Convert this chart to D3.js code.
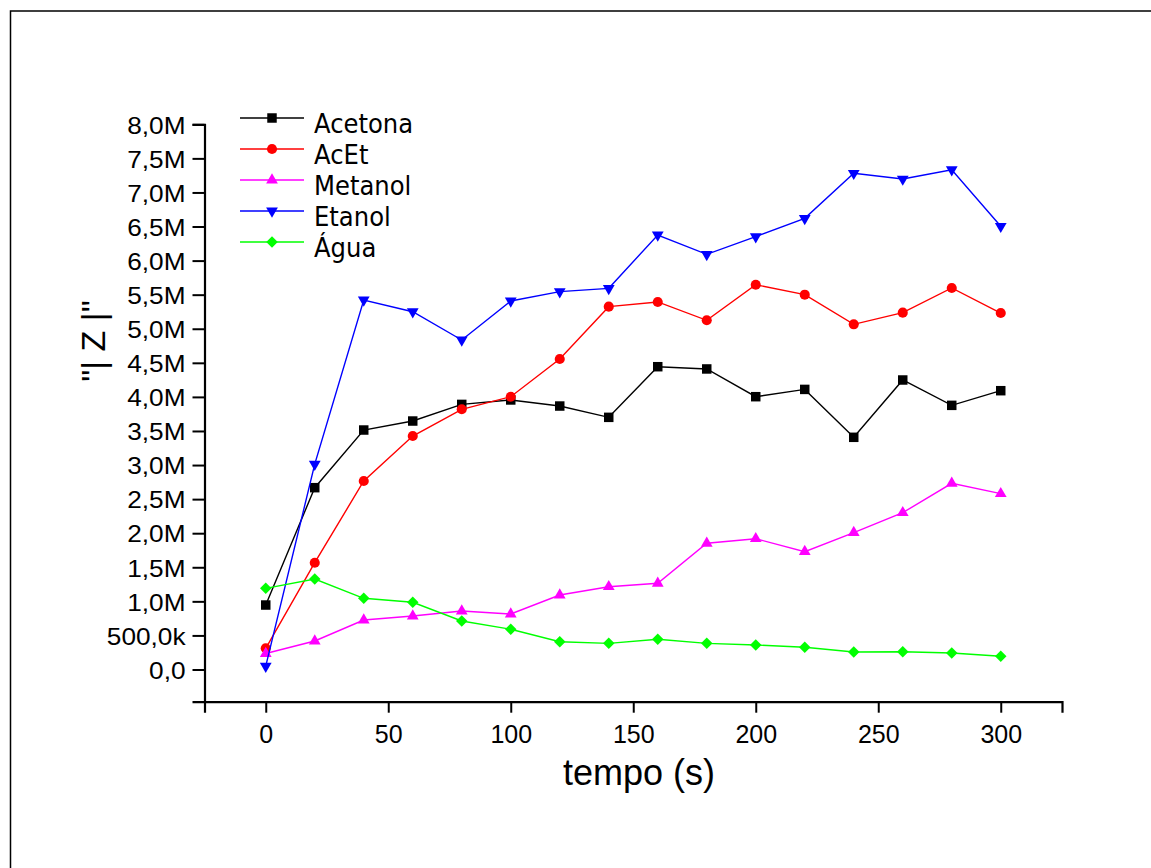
<!DOCTYPE html>
<html>
<head>
<meta charset="utf-8">
<script src="https://cdn.jsdelivr.net/npm/d3@7"></script>
<style>
  html, body { margin: 0; padding: 0; background: #fff; }
  svg { display: block; }
</style>
</head>
<body>
<svg id="chart" width="1151" height="868"></svg>
<script>
// ---- data (values in units of |Z|) ----
const times = [0, 20, 40, 60, 80, 100, 120, 140, 160, 180, 200, 220, 240, 260, 280, 300];
const seriesNames = ["Acetona", "AcEt", "Metanol", "Etanol", "Água"];
const acetona = [0.946, 2.668, 3.514, 3.646, 3.89, 3.955, 3.866, 3.70, 4.443, 4.41, 4.003, 4.11, 3.407, 4.248, 3.876, 4.091].map(v => v * 1e6);
const acet    = [0.311, 1.567, 2.766, 3.426, 3.818, 4.003, 4.556, 5.324, 5.393, 5.124, 5.646, 5.50, 5.065, 5.236, 5.598, 5.231].map(v => v * 1e6);
const metanol = [0.235, 0.418, 0.726, 0.785, 0.858, 0.814, 1.093, 1.215, 1.265, 1.852, 1.919, 1.729, 2.008, 2.301, 2.732, 2.58].map(v => v * 1e6);
const etanol  = [0.05, 3.013, 5.422, 5.25, 4.835, 5.407, 5.544, 5.593, 6.376, 6.092, 6.351, 6.62, 7.281, 7.197, 7.334, 6.503].map(v => v * 1e6);
const agua    = [1.191, 1.328, 1.045, 0.986, 0.712, 0.59, 0.408, 0.384, 0.443, 0.384, 0.36, 0.326, 0.257, 0.261, 0.242, 0.194].map(v => v * 1e6);
const seriesValues = [acetona, acet, metanol, etanol, agua];
const xTickValues = [0, 50, 100, 150, 200, 250, 300];
const yTickValues = [0, 0.5e6, 1e6, 1.5e6, 2e6, 2.5e6, 3e6, 3.5e6, 4e6, 4.5e6, 5e6, 5.5e6, 6e6, 6.5e6, 7e6, 7.5e6, 8e6];
const yTickLabels = ["0,0", "500,0k", "1,0M", "1,5M", "2,0M", "2,5M", "3,0M", "3,5M", "4,0M", "4,5M", "5,0M", "5,5M", "6,0M", "6,5M", "7,0M", "7,5M", "8,0M"];
const xTitle = "tempo (s)";
const yTitle = "\"| Z |\"";

// ---- styles ----
const colors = ["#000000", "#ff0000", "#ff00ff", "#0000ff", "#00ff00"];
const symbols = [
  { type: d3.symbolSquare, size: 90, rot: 0 },
  { type: d3.symbolCircle, size: 80, rot: 0 },
  { type: d3.symbolTriangle, size: 60, rot: 0 },
  { type: d3.symbolTriangle, size: 60, rot: 180 },
  { type: d3.symbolSquare, size: 66, rot: 45 }
];

const svg = d3.select("#chart");

// outer frame
svg.append("rect")
  .attr("x", 10.5).attr("y", 11)
  .attr("width", 1300).attr("height", 1000)
  .attr("fill", "none").attr("stroke", "#000").attr("stroke-width", 1.5);

const x = d3.scaleLinear().domain([-25, 325]).range([204.5, 1062]);
const y = d3.scaleLinear().domain([-0.4725e6, 8e6]).range([701.7, 124.3]);

// minor ticks
const xMinor = d3.range(-25, 326, 25).filter(v => v % 50 !== 0);
const yMinor = d3.range(-0.25e6, 8e6, 0.25e6).filter(v => Math.round(v / 0.25e6) % 2 !== 0);

const gx = svg.append("g").attr("transform", `translate(0,${y.range()[0]})`);
gx.call(d3.axisBottom(x).tickValues(xMinor).tickSize(6).tickFormat(""));
gx.call(d3.axisBottom(x).tickValues(xTickValues).tickSize(11).tickFormat(d3.format("d")));
gx.selectAll("path.domain").attr("stroke-width", 2.2);
gx.selectAll(".tick line").attr("stroke-width", 2);
gx.selectAll("text")
  .attr("y", 41).attr("dy", 0)
  .attr("font-family", "'Liberation Sans', Arial, sans-serif")
  .attr("font-size", 25).attr("fill", "#000");

const gy = svg.append("g").attr("transform", `translate(${x.range()[0]},0)`);
gy.call(d3.axisLeft(y).tickValues(yMinor).tickSize(7).tickFormat(""));
gy.call(d3.axisLeft(y).tickValues(yTickValues).tickSize(12).tickFormat((d, i) => yTickLabels[i]));
gy.selectAll("path.domain").attr("stroke-width", 2.2);
gy.selectAll(".tick line").attr("stroke-width", 2);
const sx = 1.14;
gy.selectAll("text")
  .attr("x", -19 / sx).attr("dy", "0.38em")
  .attr("transform", `scale(${sx},1)`)
  .attr("font-family", "'Liberation Sans', Arial, sans-serif")
  .attr("font-size", 23).attr("fill", "#000");

// titles
svg.append("text")
  .attr("x", 639).attr("y", 785)
  .attr("text-anchor", "middle")
  .attr("font-family", "'Liberation Sans', Arial, sans-serif")
  .attr("font-size", 36)
  .text(xTitle);

svg.append("text")
  .attr("transform", "translate(105,341) rotate(-90)")
  .attr("text-anchor", "middle")
  .attr("font-family", "'Liberation Sans', Arial, sans-serif")
  .attr("font-size", 34)
  .text(yTitle);

// series
const line = d3.line().x((d, i) => x(times[i])).y(d => y(d));
seriesValues.forEach((vals, si) => {
  const g = svg.append("g");
  g.append("path").datum(vals)
    .attr("d", line)
    .attr("fill", "none")
    .attr("stroke", colors[si])
    .attr("stroke-width", 1.4);
  const sym = d3.symbol().type(symbols[si].type).size(symbols[si].size);
  g.selectAll("path.m").data(vals).enter().append("path")
    .attr("class", "m")
    .attr("d", sym)
    .attr("transform", (d, i) => `translate(${x(times[i])},${y(d)}) rotate(${symbols[si].rot})`)
    .attr("fill", colors[si]);
});

// legend
const legendY = d3.scalePoint().domain(seriesNames).range([118, 242]);
const lg = svg.append("g");
seriesNames.forEach((name, si) => {
  const ly = legendY(name);
  lg.append("line")
    .attr("x1", 240).attr("x2", 304).attr("y1", ly).attr("y2", ly)
    .attr("stroke", colors[si]).attr("stroke-width", 1.4);
  const sym = d3.symbol().type(symbols[si].type).size(symbols[si].size);
  lg.append("path")
    .attr("d", sym)
    .attr("transform", `translate(272,${ly}) rotate(${symbols[si].rot})`)
    .attr("fill", colors[si]);
  lg.append("text")
    .attr("transform", `translate(314,${ly + 15}) scale(0.9,1)`)
    .attr("font-family", "'DejaVu Sans', sans-serif")
    .attr("font-size", 27)
    .attr("fill", "#000")
    .text(name);
});
</script>
</body>
</html>
